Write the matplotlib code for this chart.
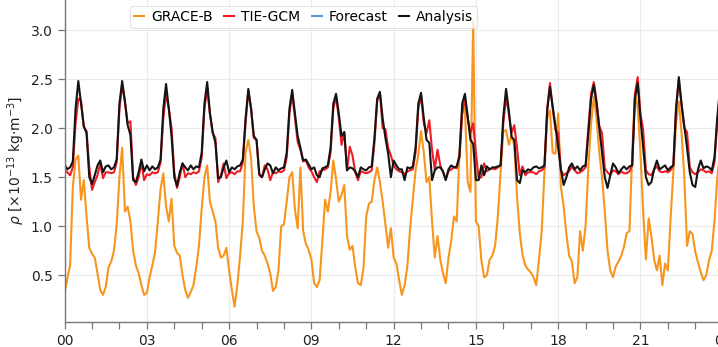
import numpy as np
import matplotlib
matplotlib.use("Agg")
import matplotlib.pyplot as plt

# -------------------------------------------------------
# Data (thermospheric density, 1e-13 kg/m^3, every 0.1 h)
# -------------------------------------------------------
hours = np.round(np.arange(0, 24.05, 0.1), 1)

grace_b = [
    0.32, 0.47, 0.60, 1.40, 1.68, 1.72, 1.27, 1.47, 1.10, 0.78,
    0.72, 0.68, 0.52, 0.35, 0.30, 0.38, 0.58, 0.64, 0.75, 1.02,
    1.50, 1.80, 1.15, 1.20, 1.05, 0.75, 0.60, 0.52, 0.40, 0.30,
    0.32, 0.48, 0.60, 0.74, 1.05, 1.38, 1.54, 1.20, 1.05, 1.28,
    0.80, 0.73, 0.70, 0.50, 0.35, 0.27, 0.33, 0.40, 0.58, 0.80,
    1.18, 1.50, 1.62, 1.25, 1.15, 1.05, 0.78, 0.68, 0.70, 0.78,
    0.55, 0.35, 0.18, 0.40, 0.70, 1.05, 1.75, 1.88, 1.70, 1.20,
    0.95, 0.88, 0.75, 0.70, 0.62, 0.52, 0.34, 0.38, 0.55, 1.00,
    1.02, 1.25, 1.50, 1.55, 1.17, 0.98, 1.60, 0.95, 0.82, 0.76,
    0.66, 0.42, 0.38, 0.45, 0.85, 1.27, 1.15, 1.35, 1.67, 1.48,
    1.25, 1.32, 1.42, 0.90, 0.76, 0.80, 0.58, 0.42, 0.40, 0.57,
    1.10, 1.23, 1.25, 1.47, 1.60, 1.45, 1.25, 1.02, 0.78, 0.98,
    0.68, 0.62, 0.45, 0.30, 0.40, 0.59, 0.98, 1.28, 1.57, 1.73,
    1.97, 1.75, 1.45, 1.50, 1.05, 0.68, 0.90, 0.66, 0.52, 0.42,
    0.68, 0.85, 1.10, 1.05, 1.75, 2.15, 2.20, 1.45, 1.35, 3.10,
    1.05, 1.00, 0.65, 0.48, 0.50, 0.66, 0.70, 0.80, 1.10, 1.55,
    1.97, 1.98, 1.83, 1.93, 1.82, 1.30, 0.93, 0.71, 0.60, 0.56,
    0.53, 0.48, 0.40, 0.66, 0.95, 1.55, 2.10, 2.18, 1.75, 1.74,
    2.15, 1.40, 1.20, 0.92, 0.70, 0.64, 0.42, 0.48, 0.95, 0.75,
    1.00, 1.60, 2.05, 2.32, 2.10, 1.75, 1.50, 1.15, 0.75, 0.55,
    0.48, 0.59, 0.64, 0.70, 0.79, 0.93, 0.95, 1.75, 2.35, 2.22,
    1.75, 1.15, 0.66, 1.08, 0.90, 0.66, 0.55, 0.70, 0.40, 0.62,
    0.55, 1.08, 1.55, 2.05, 2.27, 1.95, 1.50, 0.80, 0.95, 0.92,
    0.74, 0.63, 0.53, 0.45, 0.50, 0.65, 0.75, 1.05, 1.48, 1.75,
    2.00,
]

tie_gcm = [
    1.57, 1.55, 1.52, 1.60, 2.05, 2.30, 2.28, 2.01, 1.97, 1.60,
    1.37, 1.45, 1.52, 1.64, 1.49, 1.55, 1.55, 1.54, 1.55, 1.65,
    2.20, 2.44, 2.27, 2.05, 2.07, 1.50, 1.42, 1.50, 1.65, 1.47,
    1.53, 1.52, 1.55, 1.54, 1.55, 1.65, 2.10, 2.35, 2.20, 2.00,
    1.55, 1.39, 1.50, 1.64, 1.50, 1.54, 1.53, 1.55, 1.54, 1.56,
    1.70, 2.20, 2.40, 2.15, 1.95, 1.90, 1.45, 1.52, 1.64, 1.49,
    1.54, 1.55, 1.53, 1.56, 1.56, 1.65, 2.05, 2.38, 2.20, 1.90,
    1.88, 1.52, 1.50, 1.62, 1.58, 1.47, 1.55, 1.54, 1.56, 1.55,
    1.57, 1.70, 2.15, 2.35, 2.10, 1.86, 1.78, 1.66, 1.67, 1.60,
    1.56, 1.50, 1.45, 1.56, 1.57, 1.58, 1.60, 1.75, 2.20, 2.32,
    2.10, 1.83, 1.96, 1.57, 1.81, 1.72, 1.55, 1.47, 1.56, 1.55,
    1.54, 1.55, 1.57, 1.85, 2.28, 2.35, 2.00, 1.99, 1.80, 1.72,
    1.62, 1.58, 1.56, 1.55, 1.53, 1.56, 1.57, 1.58, 1.75, 2.20,
    2.33, 2.05, 1.95, 2.08, 1.78, 1.58, 1.78, 1.62, 1.55, 1.48,
    1.56, 1.58, 1.60, 1.59, 1.70, 2.15, 2.29, 2.10, 1.95, 2.05,
    1.75, 1.49, 1.50, 1.64, 1.56, 1.58, 1.59, 1.58, 1.60, 1.62,
    2.05, 2.32, 2.15, 1.95, 2.03, 1.80, 1.52, 1.61, 1.52, 1.55,
    1.55, 1.55, 1.53, 1.56, 1.57, 1.60, 2.20, 2.46, 2.20, 1.98,
    1.95, 1.57, 1.52, 1.54, 1.56, 1.61, 1.57, 1.54, 1.55, 1.57,
    1.60, 2.00, 2.35, 2.47, 2.28, 2.02, 1.95, 1.59, 1.55, 1.52,
    1.57, 1.56, 1.53, 1.56, 1.54, 1.54, 1.56, 1.62, 2.35, 2.52,
    2.15, 1.98, 1.57, 1.53, 1.52, 1.58, 1.61, 1.56, 1.55, 1.56,
    1.55, 1.57, 1.62, 2.20, 2.49, 2.22, 2.00, 1.96, 1.60, 1.55,
    1.53, 1.55, 1.58, 1.57, 1.55, 1.56, 1.54, 1.65, 2.05, 2.35,
    2.45,
]

analysis = [
    1.63, 1.58, 1.60, 1.66, 2.20, 2.48, 2.25, 2.02, 1.95, 1.50,
    1.43, 1.52, 1.62, 1.67, 1.55, 1.61, 1.62, 1.58, 1.60, 1.68,
    2.25, 2.48, 2.27, 2.03, 1.93, 1.47, 1.45, 1.55, 1.68, 1.56,
    1.62, 1.57, 1.61, 1.58, 1.60, 1.68, 2.20, 2.45, 2.20, 1.92,
    1.50, 1.41, 1.55, 1.64, 1.60, 1.57, 1.62, 1.58, 1.61, 1.60,
    1.75, 2.25, 2.47, 2.15, 1.96, 1.85, 1.49, 1.50, 1.60, 1.67,
    1.55, 1.60, 1.58, 1.61, 1.62, 1.68, 2.10, 2.40, 2.20, 1.92,
    1.88, 1.53, 1.50, 1.58, 1.64, 1.62, 1.54, 1.60, 1.57, 1.59,
    1.60, 1.75, 2.20, 2.39, 2.15, 1.92, 1.80, 1.67, 1.68, 1.63,
    1.58, 1.60, 1.52, 1.50, 1.59, 1.60, 1.62, 1.80, 2.25, 2.35,
    2.15, 1.92, 1.96, 1.57, 1.60, 1.59, 1.56, 1.50, 1.60, 1.58,
    1.57, 1.60, 1.61, 1.90, 2.30, 2.37, 2.10, 1.90, 1.74, 1.50,
    1.67, 1.62, 1.58, 1.58, 1.47, 1.60, 1.59, 1.61, 1.80, 2.25,
    2.36, 2.10, 1.88, 1.85, 1.47, 1.57, 1.60, 1.60, 1.56, 1.47,
    1.58, 1.62, 1.60, 1.61, 1.72, 2.25, 2.35, 2.12, 1.88, 1.84,
    1.47, 1.47, 1.62, 1.52, 1.61, 1.58, 1.60, 1.60, 1.61, 1.62,
    2.12, 2.40, 2.18, 1.91, 1.88, 1.47, 1.44, 1.57, 1.55, 1.58,
    1.57, 1.60, 1.61, 1.59, 1.60, 1.62, 2.18, 2.42, 2.22, 2.02,
    1.80, 1.58, 1.42, 1.50, 1.60, 1.64, 1.58, 1.61, 1.57, 1.61,
    1.62, 1.95, 2.30, 2.44, 2.25, 2.00, 1.74, 1.50, 1.39, 1.52,
    1.64, 1.60, 1.54, 1.58, 1.61, 1.58, 1.61, 1.62, 2.30, 2.46,
    2.10, 1.80, 1.50, 1.42, 1.45, 1.58, 1.67, 1.58, 1.60, 1.62,
    1.57, 1.60, 1.62, 2.20, 2.52, 2.25, 2.02, 1.80, 1.55, 1.42,
    1.40, 1.58, 1.67, 1.59, 1.61, 1.60, 1.57, 1.70, 2.10, 2.40,
    2.48,
]

# forecast has no samples inside this window, only the legend entry
forecast = []

x_ticks = [0, 3, 6, 9, 12, 15, 18, 21, 24]
x_labels = ["00", "03", "06", "09", "12", "15", "18", "21", "00"]
y_ticks = [0.5, 1.0, 1.5, 2.0, 2.5, 3.0]

# -------------------------------------------------------
# Figure
# -------------------------------------------------------
W, H = 718, 347
fig = plt.figure(figsize=(W / 100, H / 100), dpi=100)

left = 64.6 / W
bottom = (H - 321.7) / H
ax = fig.add_axes([left, bottom, 671.8 / W, 1 - bottom])

ax.plot(hours, grace_b, color="#f7951f", linewidth=1.5, label="GRACE-B")
ax.plot(hours, tie_gcm, color="#ee1c24", linewidth=1.5, label="TIE-GCM")
ax.plot(forecast, forecast, color="#5b9bd5", linewidth=1.5, label="Forecast")
ax.plot(hours, analysis, color="#141414", linewidth=1.5, label="Analysis")

ax.set_xlim(0, 24.5)
ax.set_ylim(0.027, 3.306)

ax.set_xticks(x_ticks)
ax.set_xticklabels(x_labels)
ax.set_xticks(np.arange(0, 25, 1), minor=True)
ax.set_yticks(y_ticks)
ax.set_yticklabels([f"{v:.1f}" for v in y_ticks])

ax.grid(True, which="major", color="#ebebeb", linewidth=0.8)
ax.set_axisbelow(True)

for side in ["top", "right"]:
    ax.spines[side].set_visible(False)
for side in ["left", "bottom"]:
    ax.spines[side].set_color("#777777")
    ax.spines[side].set_linewidth(1.0)

ax.tick_params(axis="both", which="both", length=5, width=0.9,
               color="#777777", labelsize=10, labelcolor="#222222")

ax.set_ylabel(r"$\rho$ [$\times10^{-13}$ kg$\cdot$m$^{-3}$]", fontsize=10,
              color="#222222")
ax.yaxis.set_label_coords(-0.056, 0.5)

leg = ax.legend(loc="upper left", bbox_to_anchor=(130 / W, 1 - 6 / H),
                bbox_transform=fig.transFigure, ncol=4, fontsize=10,
                handlelength=0.7, handletextpad=0.5, columnspacing=0.85,
                borderpad=0.3, borderaxespad=0, frameon=True, fancybox=True)
leg.get_frame().set_edgecolor("#dddddd")
leg.get_frame().set_linewidth(0.8)

fig.savefig("out.png", dpi=100)
plt.close(fig)
